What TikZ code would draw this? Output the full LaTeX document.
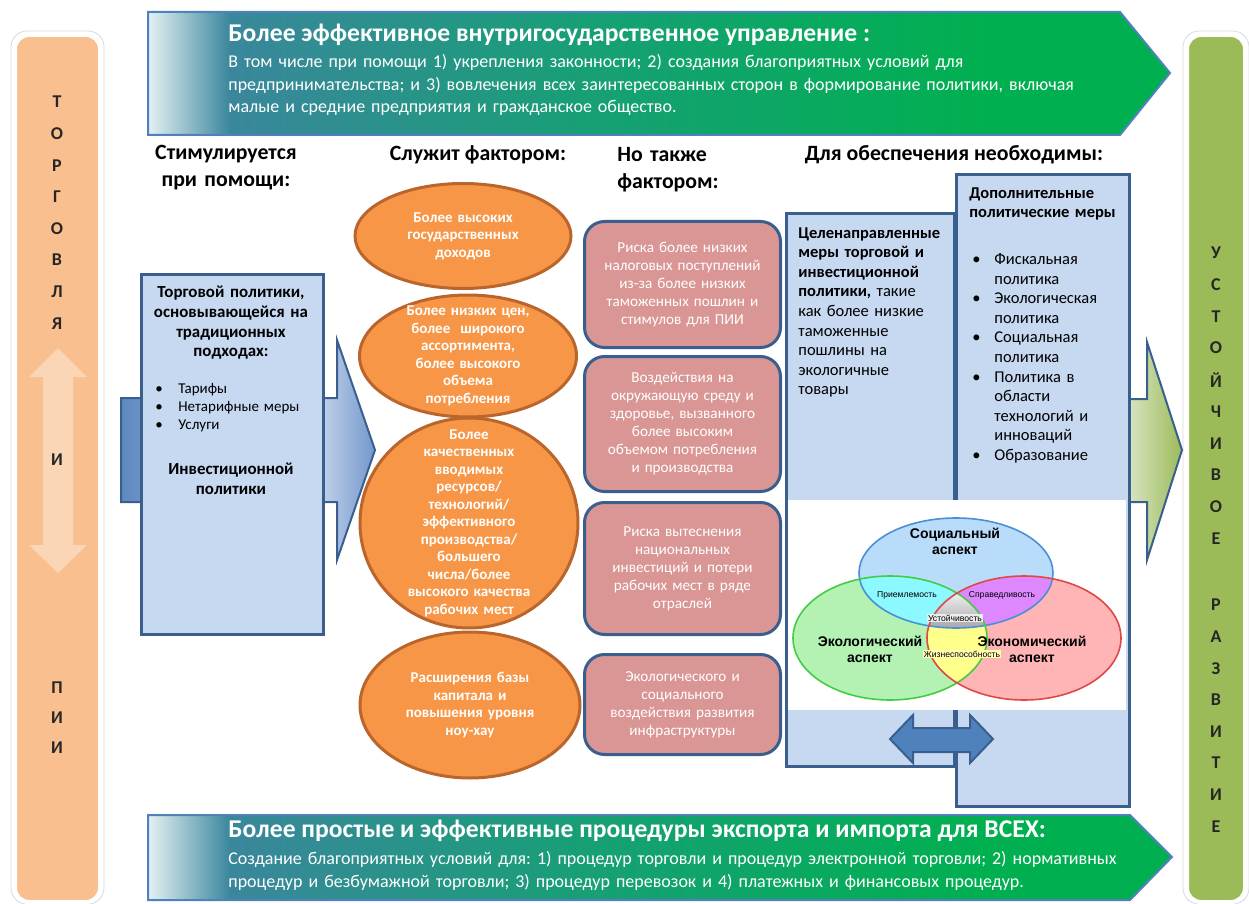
\documentclass[tikz,border=0pt]{standalone}
\usepackage{fontspec}
\setmainfont{Carlito}
\newfontfamily\vennfont{Liberation Sans}
\usepackage{xcolor}
\usepackage{tikz}
\usetikzlibrary{positioning, shapes.geometric, calc}
\frenchspacing

%% palette
\definecolor{peachcol}{HTML}{F9BF8F}
\definecolor{peachlight}{HTML}{FBD6B6}
\definecolor{olivecol}{HTML}{9BBB59}
\definecolor{olivelight}{HTML}{D9E5C2}
\definecolor{boxblue}{HTML}{C6D9F1}
\definecolor{edgeblue}{HTML}{3A5F8F}
\definecolor{midblue}{HTML}{4F81BD}
\definecolor{arrowlight}{HTML}{C3D4EA}
\definecolor{arrowdark}{HTML}{5F89C2}
\definecolor{arrowtip}{HTML}{7397CB}
\definecolor{ovalfill}{HTML}{F79646}
\definecolor{ovaledge}{HTML}{B9652C}
\definecolor{riskfill}{HTML}{D99694}
\definecolor{bnA}{HTML}{E6F0F4}
\definecolor{bnB}{HTML}{3A879C}
\definecolor{bnC}{HTML}{16A074}
\definecolor{bnD}{HTML}{00B050}
\definecolor{bnedge}{HTML}{4F81BD}
\definecolor{socfill}{HTML}{B8DCFA}
\definecolor{socedge}{HTML}{4A90D9}
\definecolor{ecofill}{HTML}{B3F2B3}
\definecolor{ecoedge}{HTML}{44CC44}
\definecolor{econfill}{HTML}{FFB5B5}
\definecolor{econedge}{HTML}{E04848}
\definecolor{cyanmix}{HTML}{8CF8FF}
\definecolor{violetmix}{HTML}{DD88FF}
\definecolor{yellowmix}{HTML}{FFFF8C}

%% shadings (bounding box is mapped to 25bp..75bp)
\pgfdeclarehorizontalshading{bannershade}{100bp}{%
  color(0bp)=(bnA); color(25bp)=(bnA); color(29bp)=(bnB);
  color(47bp)=(bnC); color(66bp)=(bnD); color(100bp)=(bnD)}
\pgfdeclarehorizontalshading{blueshade}{100bp}{%
  color(0bp)=(arrowdark); color(25bp)=(arrowdark); color(64bp)=(arrowlight);
  color(75bp)=(arrowtip); color(100bp)=(arrowtip)}
\pgfdeclarehorizontalshading{greenshade}{100bp}{%
  color(0bp)=(olivelight); color(25bp)=(olivelight); color(75bp)=(olivecol);
  color(100bp)=(olivecol)}

\newcommand{\bul}{\makebox[11.5pt][l]{\textbullet}}
\newcommand{\socarea}{(956,573) ellipse [x radius=97, y radius=55]}
\newcommand{\ecoarea}{(890,638) ellipse [x radius=97, y radius=62]}
\newcommand{\econarea}{(1024,638) ellipse [x radius=97, y radius=62]}

\tikzset{
  %% Side bar letters
  sideletter/.style={font=\bfseries\fontsize{9}{10}\selectfont,
                     text=black!85, inner sep=0pt},
  %% Column headings
  colhead/.style={font=\bfseries\fontsize{10.9}{13.5}\selectfont,
                  inner sep=0pt},
  %% Light blue panel
  panel/.style={rectangle, draw=edgeblue, fill=boxblue,
                line width=1.5pt, inner sep=0pt, anchor=north west},
  paneltext/.style={inner sep=0pt, font=\fontsize{8.25}{9.8}\selectfont,
                    text width=#1, align=left, anchor=north west},
  paneltext/.default=80pt,
  %% Orange oval
  oval/.style={ellipse, draw=ovaledge, fill=ovalfill,
               line width=1.5pt, inner sep=0pt},
  ovaltext/.style={text=white, font=\bfseries\fontsize{7.5}{8.75}\selectfont,
                   align=center, text width=95pt, inner sep=0pt},
  %% Risk box
  riskbox/.style={rectangle, rounded corners=10pt, draw=edgeblue,
                  fill=riskfill, line width=1.5pt, text=white,
                  font=\fontsize{7.6}{9}\selectfont, align=center,
                  text width=90pt, inner sep=0pt, minimum width=98pt},
  %% Banner texts
  bantitle/.style={text=white, font=\bfseries\fontsize{12.8}{14}\selectfont,
                   inner sep=0pt, anchor=west},
  banbody/.style={text=white, font=\fontsize{9}{11.25}\selectfont,
                  inner sep=0pt, anchor=north west, text width=470pt,
                  align=left},
  %% Venn labels
  vennlabel/.style={font=\vennfont\bfseries\fontsize{7}{8}\selectfont,
                    align=center, text width=62pt, inner sep=0pt},
  vennsmall/.style={font=\vennfont\fontsize{4.3}{5}\selectfont,
                    inner sep=0.6pt},
  %% Block arrows
  blockarrow/.style={draw=edgeblue, line width=1pt},
}

\begin{document}
\begin{tikzpicture}[x=0.5pt, y=-0.5pt]
  \useasboundingbox (0,0) rectangle (1249,904);

  %% side bars
  \draw[black!15, line width=0.4pt, rounded corners=8pt]
       (11,31) rectangle (104,904);
  \draw[fill=peachcol, draw=white, line width=2pt, rounded corners=7pt]
       (15,35) rectangle (100,902);
  \draw[black!15, line width=0.4pt, rounded corners=8pt]
       (1183,31) rectangle (1249,904);
  \draw[fill=olivecol, draw=white, line width=2pt, rounded corners=7pt]
       (1187,35) rectangle (1245,902);

  \fill[peachlight] (58,348) -- (87,377) -- (73,377) -- (73,545) --
       (87,545) -- (58,573) -- (29,545) -- (43,545) -- (43,377) --
       (29,377) -- cycle;

  \foreach \ch [count=\i] in {Т,О,Р,Г,О,В,Л,Я}
    \node[sideletter] (trade\i) at (57,102+31.6*\i-31.6) {\ch};
  \node[sideletter] (andl) at (57,460) {И};
  \foreach \ch [count=\i] in {П,И,И}
    \node[sideletter] (fdi\i) at (57,688+30*\i-30) {\ch};

  \foreach \ch [count=\i] in {У,С,Т,О,Й,Ч,И,В,О,Е}
    \node[sideletter] (sust\i) at (1216,253+31.7*\i-31.7) {\ch};
  \foreach \ch [count=\i] in {Р,А,З,В,И,Т,И,Е}
    \node[sideletter] (devl\i) at (1216,605+31.6*\i-31.6) {\ch};

  %% banners
  \shadedraw[shading=bannershade, draw=bnedge, line width=1pt]
       (148,12) -- (1120,12) -- (1170,73) -- (1120,135) -- (148,135) -- cycle;
  \node[bantitle] (govtitle) at (228,35)
       {Более эффективное внутригосударственное управление :};
  \node[banbody] (govbody) at (228,54)
       {В том числе при помощи 1) укрепления законности; 2) создания благоприятных условий для\\
        предпринимательства; и 3) вовлечения всех заинтересованных сторон в формирование политики, включая\\
        малые и средние предприятия и гражданское общество.};

  \shadedraw[shading=bannershade, draw=bnedge, line width=1pt]
       (148,815) -- (1130,815) -- (1172,857) -- (1130,900) -- (148,900) -- cycle;
  \node[bantitle] (proctitle) at (228,831)
       {Более простые и эффективные процедуры экспорта и импорта для ВСЕХ:};
  \node[banbody] (procbody) at (228,851)
       {Создание благоприятных условий для: 1) процедур торговли и процедур электронной торговли; 2) нормативных\\
        процедур и безбумажной торговли; 3) процедур перевозок и 4) платежных и финансовых процедур.};

  %% column headings
  \node[colhead, text width=85pt, align=center] (hstim) at (226,168)
       {Стимулируется\\при помощи:};
  \node[colhead] (hserve) at (478,155) {Служит фактором:};
  \node[colhead, text width=60pt, align=left, anchor=west] (halso)
       at (617,170) {Но также\\фактором:};
  \node[colhead] (hneed) at (954,155) {Для обеспечения необходимы:};

  %% block arrows
  \shadedraw[shading=blueshade, blockarrow]
       (121,398) -- (337,398) -- (337,340) -- (375,450) -- (337,560) --
       (337,502) -- (121,502) -- cycle;
  \shadedraw[shading=greenshade, blockarrow]
       (1128,399) -- (1147,399) -- (1147,342) -- (1182,450) -- (1147,560) --
       (1147,502) -- (1128,502) -- cycle;

  %% trade policy panel
  \node[panel, minimum width=91pt, minimum height=180pt] (tradebox)
       at (140,273) {};
  \node[paneltext=90pt, align=center, anchor=north,
        font=\bfseries\fontsize{8.45}{9.8}\selectfont] (tradehead)
       at (231,286) {Торговой политики,\\основывающейся на\\традиционных\\подходах:};
  \node[paneltext=85pt, font=\fontsize{7.5}{9}\selectfont] (tradelist)
       at (155,383) {\bul Тарифы\\\bul Нетарифные меры\\\bul Услуги};
  \node[paneltext=90pt, align=center, anchor=north,
        font=\bfseries\fontsize{8.45}{9.8}\selectfont] (investhead)
       at (231,463) {Инвестиционной\\политики};

  %% orange ovals
  \node[oval, minimum width=108pt, minimum height=52.5pt] (revenue)
       at (463,236) {};
  \node[ovaltext] (revenuetext) at (revenue)
       {Более высоких\\государственных\\доходов};
  \node[oval, minimum width=108.5pt, minimum height=61pt] (prices)
       at (468,356) {};
  \node[ovaltext] (pricestext) at (prices)
       {Более низких цен,\\более\ \ широкого\\ассортимента,\\более высокого\\объема\\потребления};
  \node[oval, minimum width=109pt, minimum height=105pt] (inputs)
       at (469,523) {};
  \node[ovaltext] (inputstext) at (inputs)
       {Более\\качественных\\вводимых\\ресурсов/\\технологий/\\эффективного\\производства/\\большего\\числа/более\\высокого качества\\рабочих мест};
  \node[oval, minimum width=110pt, minimum height=73pt] (capital)
       at (470,705) {};
  \node[ovaltext] (capitaltext) at (capital)
       {Расширения базы\\капитала и\\повышения уровня\\ноу-хау};

  %% risk boxes
  \node[riskbox, minimum height=63pt, anchor=north west] (risktax)
       at (583,220) {Риска более низких\\налоговых поступлений\\из-за более низких\\таможенных пошлин и\\стимулов для ПИИ};
  \node[riskbox, minimum height=67.5pt, below=3pt of risktax] (riskenv)
       {Воздействия на\\окружающую среду и\\здоровье, вызванного\\более высоким\\объемом потребления\\и производства};
  \node[riskbox, minimum height=66pt, below=4pt of riskenv] (riskjobs)
       {Риска вытеснения\\национальных\\инвестиций и потери\\рабочих мест в ряде\\отраслей};
  \node[riskbox, minimum height=50pt, below=8.5pt of riskjobs] (riskinfra)
       {Экологического и\\социального\\воздействия развития\\инфраструктуры};

  %% policy panels
  \node[panel, minimum width=84pt, minimum height=276.5pt] (targetbox)
       at (785,212) {};
  \node[panel, minimum width=86.5pt, minimum height=316pt] (extrabox)
       at (955,173) {};
  \node[paneltext=80pt] (targettext) at (798,227)
       {\textbf{Целенаправленные\\меры торговой и\\инвестиционной\\политики,} такие\\как более низкие\\таможенные\\пошлины на\\экологичные\\товары};
  \node[paneltext=80pt, font=\bfseries\fontsize{8.25}{9.8}\selectfont]
       (extrahead) at (969,187) {Дополнительные\\политические меры};
  \node[paneltext=80pt] (extralist) at (972,253)
       {\makebox[11pt][l]{\textbullet}Фискальная\\\hspace*{11pt}политика\\
        \makebox[11pt][l]{\textbullet}Экологическая\\\hspace*{11pt}политика\\
        \makebox[11pt][l]{\textbullet}Социальная\\\hspace*{11pt}политика\\
        \makebox[11pt][l]{\textbullet}Политика в\\\hspace*{11pt}области\\
        \hspace*{11pt}технологий и\\\hspace*{11pt}инноваций\\
        \makebox[11pt][l]{\textbullet}Образование};

  %% sustainability Venn
  \fill[white] (788,500) rectangle (1126,710);
  \fill[socfill] \socarea;
  \fill[ecofill] \ecoarea;
  \fill[econfill] \econarea;
  \begin{scope}
    \clip \socarea;
    \fill[cyanmix] \ecoarea;
    \fill[violetmix] \econarea;
  \end{scope}
  \begin{scope}
    \clip \ecoarea;
    \fill[yellowmix] \econarea;
  \end{scope}
  \begin{scope}
    \clip \socarea;
    \clip \ecoarea;
    \clip \econarea;
    \shade[top color=white, bottom color=gray!75] (920,585) rectangle (995,632);
  \end{scope}
  \draw[socedge, line width=0.8pt] \socarea;
  \draw[ecoedge, line width=0.8pt] \ecoarea;
  \draw[econedge, line width=0.8pt] \econarea;

  \node[vennlabel] (social) at (955,541) {Социальный\\аспект};
  \node[vennlabel] (ecology) at (870,649) {Экологический\\аспект};
  \node[vennlabel] (economy) at (1032,649) {Экономический\\аспект};
  \node[vennsmall] (accept) at (907,595) {Приемлемость};
  \node[vennsmall] (equity) at (1002,595) {Справедливость};
  \node[vennsmall, fill=white!85!gray] (stable) at (955,618) {Устойчивость};
  \node[vennsmall, fill=yellowmix!70!white] (viable) at (962,654) {Жизнеспособность};

  %% two-way arrow
  \fill[midblue, draw=edgeblue, line width=1pt]
       (890,739) -- (913,715) -- (913,728) -- (970,728) -- (970,715) --
       (993,739) -- (970,763) -- (970,752) -- (913,752) -- (913,763) -- cycle;

\end{tikzpicture}
\end{document}
